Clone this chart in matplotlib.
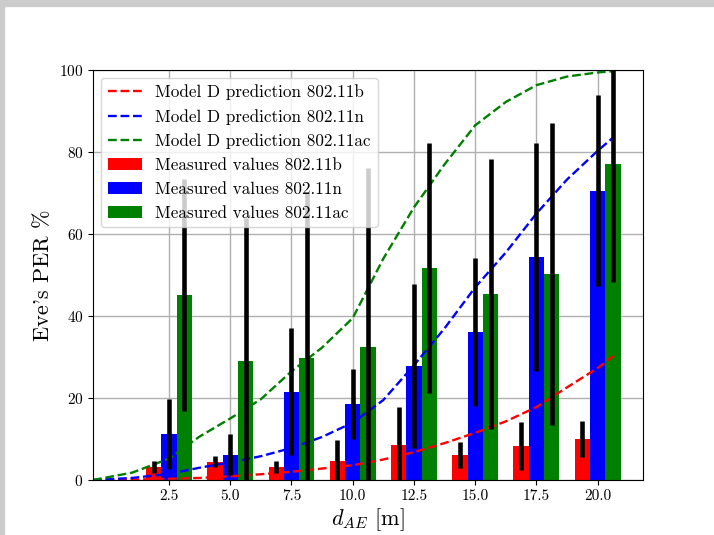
import matplotlib
matplotlib.use("Agg")
import matplotlib.pyplot as plt
import numpy as np
from matplotlib.patches import Rectangle

plt.rcParams['font.family'] = 'serif'
plt.rcParams['font.serif'] = ['cmr10']
plt.rcParams['mathtext.fontset'] = 'cm'
plt.rcParams['axes.formatter.use_mathtext'] = True

# distances (m) where PER was measured
dist = np.array([2.5, 5.0, 7.5, 10.0, 12.5, 15.0, 17.5, 20.0])

# measured PER (%) and std dev
per_b = [3.2, 4.5, 3.2, 4.6, 8.5, 6.1, 8.3, 10.0]
err_b = [1.5, 1.3, 1.4, 5.2, 9.4, 3.2, 5.9, 4.3]
per_n = [11.2, 6.1, 21.5, 18.5, 27.8, 36.1, 54.4, 70.5]
err_n = [8.5, 5.0, 15.5, 8.6, 19.9, 18.1, 27.7, 23.3]
per_ac = [45.1, 29.0, 29.8, 32.5, 51.7, 45.4, 50.2, 77.1]
err_ac = [28.2, 35.0, 40.5, 43.7, 30.4, 33.0, 36.8, 28.7]

# model D prediction curves
d_model = [-0.6, 1.0, 2.5, 3.75, 5.0, 6.25, 7.5, 8.75, 10.0, 11.25,
           12.5, 13.75, 15.0, 16.25, 17.5, 18.75, 20.0, 20.625]
model_b = [0.0, 0.1, 0.3, 0.5, 0.9, 1.4, 2.0, 2.8, 3.6, 5.0,
           6.8, 9.0, 11.5, 14.3, 17.8, 22.6, 27.3, 30.2]
model_n = [0.0, 0.5, 1.5, 3.0, 4.3, 5.8, 7.8, 10.5, 14.0, 19.5,
           28.0, 37.0, 47.0, 55.5, 65.0, 73.3, 80.3, 83.5]
model_ac = [0.0, 1.8, 5.2, 10.6, 15.0, 19.7, 26.5, 32.3, 39.5, 54.0,
            66.5, 77.0, 86.5, 92.2, 96.3, 98.4, 99.4, 99.7]

w = 0.625

fig = plt.figure(figsize=(7.14, 5.35), dpi=100)
ax = fig.add_axes([0.1303, 0.1028, 0.7703, 0.7664])
ax.set_axisbelow(True)
ax.grid(True, color='#b0b0b0', linewidth=1.0)

l1, = ax.plot(d_model, model_b, 'r--', lw=1.7, label='Model D prediction 802.11b')
l2, = ax.plot(d_model, model_n, 'b--', lw=1.7, label='Model D prediction 802.11n')
l3, = ax.plot(d_model, model_ac, 'g--', lw=1.7, label='Model D prediction 802.11ac')

ekw = dict(ecolor='k', elinewidth=3.3, capsize=0)
b1 = ax.bar(dist - w, per_b, w, color='red', yerr=err_b, error_kw=ekw,
            label='Measured values 802.11b')
b2 = ax.bar(dist, per_n, w, color='blue', yerr=err_n, error_kw=ekw,
            label='Measured values 802.11n')
b3 = ax.bar(dist + w, per_ac, w, color='green', yerr=err_ac, error_kw=ekw,
            label='Measured values 802.11ac')

ax.set_xlim(-0.6, 21.85)
ax.set_ylim(0, 100)
ax.set_xticks(dist)
ax.set_xticklabels(['%.1f' % d for d in dist])
ax.set_yticks([0, 20, 40, 60, 80, 100])
ax.tick_params(labelsize=11)
ax.set_xlabel(r'$d_{AE}$ [m]', fontsize=16, labelpad=2)
ax.set_ylabel("Eve's PER %", fontsize=16)

ax.legend(handles=[l1, l2, l3, b1, b2, b3], loc='upper left', fontsize=12.3,
          borderaxespad=0.45)

# window border strips
fig.patches.append(Rectangle((0, 0.9888), 1, 0.0112, transform=fig.transFigure,
                             color='#cccccc', zorder=0))
fig.patches.append(Rectangle((0, 0), 0.0056, 1, transform=fig.transFigure,
                             color='#cccccc', zorder=0))

fig.savefig('out.png', dpi=100)
